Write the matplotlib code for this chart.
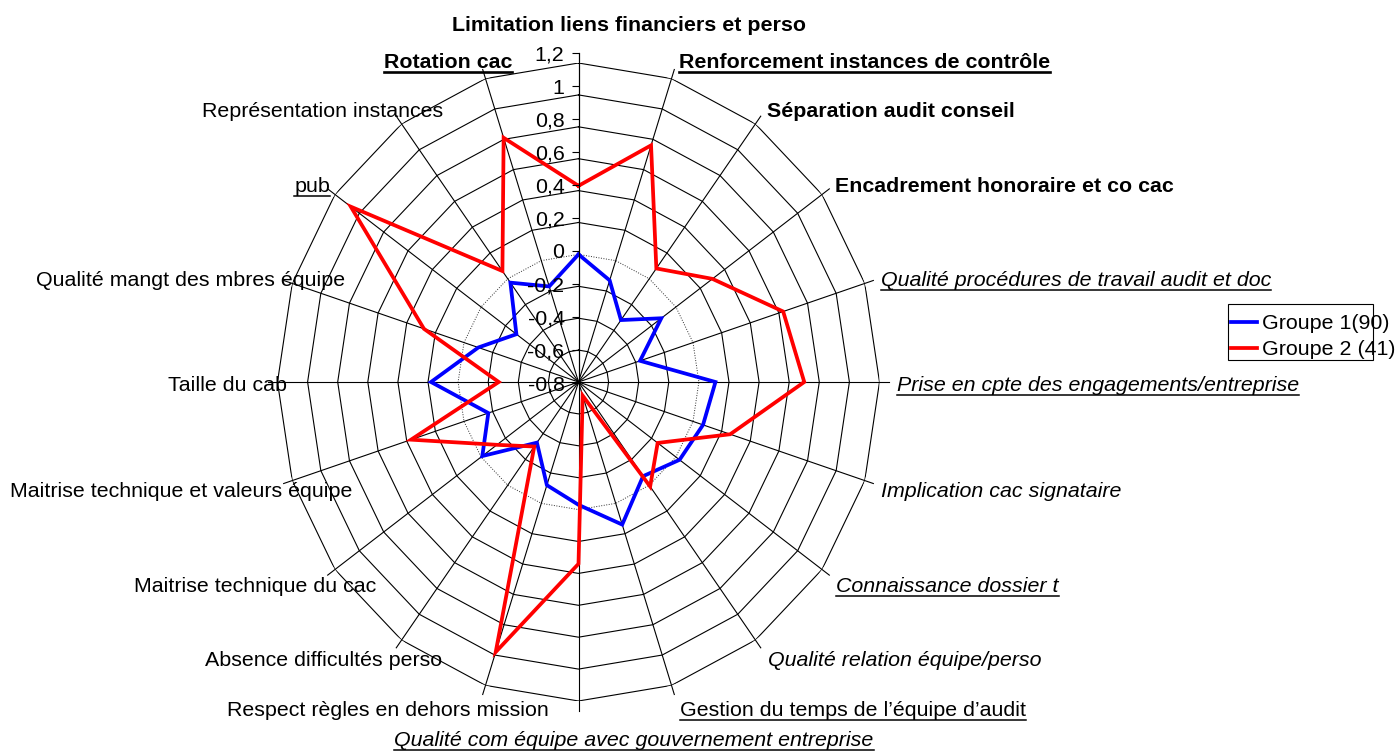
import numpy as np
import matplotlib
matplotlib.use("Agg")
import matplotlib.pyplot as plt
from matplotlib.lines import Line2D
from matplotlib.patches import Rectangle

plt.rcParams['font.family'] = ['Liberation Sans', 'DejaVu Sans']

# ---------------- data ----------------
categories = [
    "Limitation liens financiers et perso",
    "Renforcement instances de contrôle",
    "Séparation audit conseil",
    "Encadrement honoraire et co cac",
    "Qualité procédures de travail audit et doc",
    "Prise en cpte des engagements/entreprise",
    "Implication cac signataire",
    "Connaissance dossier t",
    "Qualité relation équipe/perso",
    "Gestion du temps de l\u2019équipe d\u2019audit",
    "Qualité com équipe avec gouvernement entreprise",
    "Respect règles en dehors mission",
    "Absence difficultés perso",
    "Maitrise technique du cac",
    "Maitrise technique et valeurs équipe",
    "Taille du cab",
    "Qualité mangt des mbres équipe",
    "pub",
    "Représentation instances",
    "Rotation cac",
]
groupe1 = [0.0, -0.13, -0.32, -0.12, -0.37, 0.11, 0.07, 0.03, -0.07, 0.14,
           -0.03, -0.12, -0.33, -0.01, -0.17, 0.18, -0.10, -0.29, -0.03, -0.17]
groupe2 = [0.43, 0.76, 0.08, 0.30, 0.63, 0.70, 0.26, -0.15, 0.01, -0.71,
           0.34, 0.98, -0.30, -0.13, 0.37, -0.27, 0.28, 1.07, 0.06, 0.81]
series_names = ["Groupe 1(90)", "Groupe 2 (41)"]
r_ticks = [-0.8, -0.6, -0.4, -0.2, 0.0, 0.2, 0.4, 0.6, 0.8, 1.0, 1.2]
r_tick_labels = ["-0,8", "-0,6", "-0,4", "-0,2", "0", "0,2", "0,4", "0,6", "0,8", "1", "1,2"]

# ---------------- layout / styles ----------------
W, H = 1396, 751
FS = 15.4
fig = plt.figure(figsize=(W / 100, H / 100), dpi=100)

cx, cy = 578.5, 382.0      # centre in pixels (from top-left)
rx, ry = 301.0, 319.0      # outer ring radii in pixels
ax = fig.add_axes([(cx - rx) / W, 1 - (cy + ry) / H, 2 * rx / W, 2 * ry / H],
                  projection='polar')
ax.set_aspect('auto')
ax.set_theta_zero_location('N')
ax.set_theta_direction(-1)
ax.set_ylim(r_ticks[0], r_ticks[-1])
ax.grid(False)
ax.set_xticks([])
ax.set_yticks([])
ax.spines['polar'].set_visible(False)
ax.patch.set_visible(False)

n = len(categories)
theta = np.arange(n) * 2 * np.pi / n
theta_c = np.append(theta, theta[0])

# polygon rings
for lev in r_ticks[1:]:
    if abs(lev) < 1e-9:
        ax.plot(theta_c, [lev] * (n + 1), color='#303030', lw=0.7,
                linestyle=(0, (1, 1.6)), zorder=1)
    else:
        ax.plot(theta_c, [lev] * (n + 1), color='black', lw=0.8, zorder=1)
# spokes (with small outer tick extension)
for t in theta:
    ax.plot([t, t], [r_ticks[0], r_ticks[-1] + 0.06], color='black', lw=0.8,
            zorder=1, clip_on=False)

# data
l1, = ax.plot(theta_c, groupe1 + groupe1[:1],
              color='#0000FF', lw=2.7, zorder=3, solid_joinstyle='miter')
l2, = ax.plot(theta_c, groupe2 + groupe2[:1],
              color='#FF0000', lw=2.7, zorder=4, solid_joinstyle='miter')

# value axis (tick labels along the top spoke)
top_px, bot_px = 53.0, 383.0
ax2 = fig.add_axes([cx / W, 1 - bot_px / H, 0.0005, (bot_px - top_px) / H])
ax2.patch.set_visible(False)
ax2.set_ylim(r_ticks[0], r_ticks[-1])
ax2.set_yticks(r_ticks)
ax2.set_yticklabels(r_tick_labels, fontsize=FS)
ax2.set_xticks([])
ax2.tick_params(axis='y', direction='out', length=5, width=0.8, pad=5)
for s in ['top', 'right', 'bottom']:
    ax2.spines[s].set_visible(False)
ax2.spines['left'].set_linewidth(0.8)

# category labels: (x px, baseline px, ha, weight, style, underline)
label_layout = [
    (629, 31, 'center', 'bold', 'normal', False),
    (679, 68, 'left', 'bold', 'normal', True),
    (767, 117, 'left', 'bold', 'normal', False),
    (835, 192, 'left', 'bold', 'normal', False),
    (881, 286, 'left', 'normal', 'italic', True),
    (897, 391, 'left', 'normal', 'italic', True),
    (881, 497, 'left', 'normal', 'italic', False),
    (836, 592, 'left', 'normal', 'italic', True),
    (768, 666, 'left', 'normal', 'italic', False),
    (680, 716, 'left', 'normal', 'normal', True),
    (634, 746, 'center', 'normal', 'italic', True),
    (549, 716, 'right', 'normal', 'normal', False),
    (442, 666, 'right', 'normal', 'normal', False),
    (376, 592, 'right', 'normal', 'normal', False),
    (352, 497, 'right', 'normal', 'normal', False),
    (287, 391, 'right', 'normal', 'normal', False),
    (345, 286, 'right', 'normal', 'normal', False),
    (330, 192, 'right', 'normal', 'normal', True),
    (443, 117, 'right', 'normal', 'normal', False),
    (512, 68, 'right', 'bold', 'normal', True),
]
texts = []
for name, (x, y, ha, wt, st, ul) in zip(categories, label_layout):
    t = fig.text(x / W, 1 - y / H, name, ha=ha, va='baseline', fontsize=FS,
                 fontweight=wt, fontstyle=st)
    texts.append((t, y, ul, wt))

# legend
leg = fig.legend([l1, l2], series_names, loc='upper left',
                 bbox_to_anchor=(1231 / W, 1 - 314 / H), bbox_transform=fig.transFigure,
                 frameon=False, fontsize=FS, handlelength=1.2, handletextpad=0.25,
                 borderpad=0, borderaxespad=0, labelspacing=0.33)
fig.add_artist(Rectangle((1228 / W, 1 - 360 / H), 145 / W, 56 / H,
                         transform=fig.transFigure, fill=False,
                         edgecolor='black', lw=0.8))

# underlines
fig.canvas.draw()
renderer = fig.canvas.get_renderer()
for t, y, ul, wt in texts:
    if not ul:
        continue
    bb = t.get_window_extent(renderer)
    yy = 1 - (y + 3.5) / H
    fig.add_artist(Line2D([bb.x0 / W, bb.x1 / W], [yy, yy], transform=fig.transFigure,
                          color='black', lw=1.9 if wt == 'bold' else 1.1))

fig.savefig('out.png', dpi=100)
